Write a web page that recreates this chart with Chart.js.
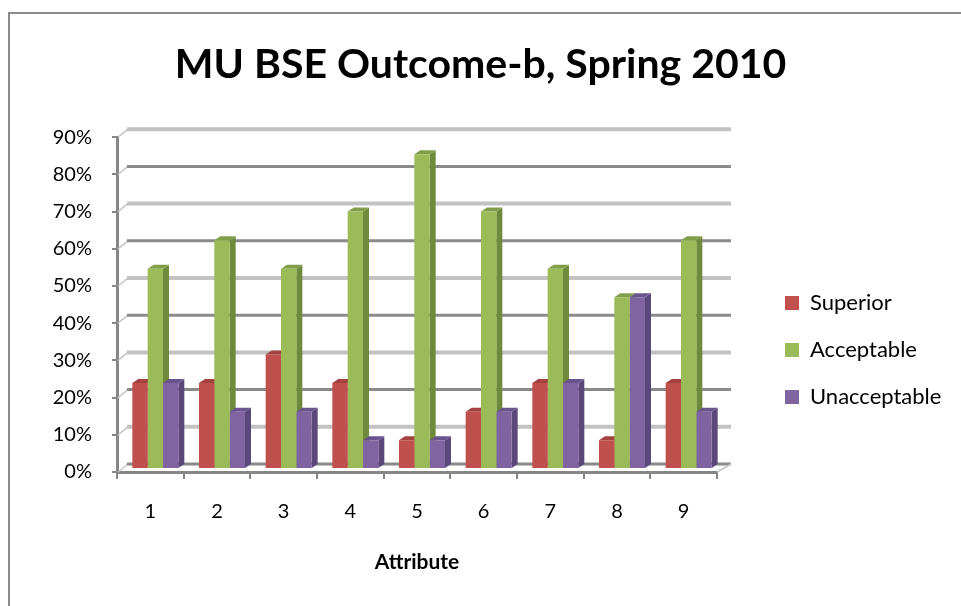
<!DOCTYPE html>
<html>
<head>
<meta charset="utf-8">
<script src="https://cdn.jsdelivr.net/npm/chart.js@4.4.0/dist/chart.umd.min.js"></script>
<style>
    html, body { margin: 0; padding: 0; background: #fff; overflow: hidden; }
    #wrap { position: relative; width: 961px; height: 606px; }
    #frame { position: absolute; left: 8px; top: 12px; width: 1000px; height: 1000px; border: 2px solid #8c8c8c; box-sizing: border-box; }
    canvas { position: absolute; left: 0; top: 0; }
</style>
</head>
<body>
<div id="wrap">
    <div id="frame"></div>
    <canvas id="chart" width="961" height="606"></canvas>
</div>
<script>
// Data (percent of students per attribute)
const attributes = ["1", "2", "3", "4", "5", "6", "7", "8", "9"];
const superior = [23.1, 23.1, 30.8, 23.1, 7.7, 15.4, 23.1, 7.7, 23.1];
const acceptable = [53.8, 61.5, 53.8, 69.2, 84.6, 69.2, 53.8, 46.2, 61.5];
const unacceptable = [23.1, 15.4, 15.4, 7.7, 7.7, 15.4, 23.1, 46.2, 15.4];
const yTickLabels = ["0%", "10%", "20%", "30%", "40%", "50%", "60%", "70%", "80%", "90%"];

// Excel 2007 kleuren: voorkant, zijkant, bovenkant
const fronts = ["#c0504d", "#9bbb59", "#8064a2"];
const sides = ["#8c3a37", "#6e8a3a", "#5b477c"];
const tops = ["#a4423f", "#809f48", "#6a5490"];

const axisGray = "#868686";
const font = "Lato";

// 3D look: achterwand-gridlines en zijvlakken van de staven
const depth3d = {
    id: "depth3d",
    beforeInit(chart) {
        const fit = chart.legend.fit;
        chart.legend.fit = function () {
            fit.bind(chart.legend)();
            this.width = 244;
        };
    },
    afterLayout(chart) {
        // legenda staat in Excel verder naar rechts en lager
        chart.legend.left = 760;
        chart.legend.right = 961;
        chart.legend.top = 267;
        chart.legend.bottom = 606;
    },
    beforeDatasetsDraw(chart) {
        const { ctx, chartArea: a, scales: { y } } = chart;
        ctx.save();
        y.ticks.forEach((t, i) => {
            const yf = y.getPixelForValue(t.value);
            const yb = yf - 8;
            ctx.strokeStyle = "#c4c4c4";
            ctx.lineWidth = 1.5;
            ctx.beginPath();
            ctx.moveTo(a.left + 1, yf);
            ctx.lineTo(a.left + 11, yb);
            ctx.stroke();
            ctx.strokeStyle = i % 2 ? "#c2c2c2" : "#8a8a8a";
            ctx.lineWidth = i % 2 ? 4 : 3;
            ctx.beginPath();
            ctx.moveTo(a.left + 10, yb);
            ctx.lineTo(a.right + 14, yb);
            ctx.stroke();
        });
        // rechterkant van de vloer
        ctx.strokeStyle = "#c4c4c4";
        ctx.lineWidth = 1.5;
        ctx.beginPath();
        ctx.moveTo(a.right, a.bottom);
        ctx.lineTo(a.right + 14, a.bottom - 8);
        ctx.stroke();
        ctx.restore();

        // staven iets naar achteren schuiven
        ctx.save();
        ctx.translate(5, -3);
        const dx = 6, dy = 4;
        chart.data.datasets.forEach((ds, i) => {
            chart.getDatasetMeta(i).data.forEach((bar) => {
                const l = bar.x - bar.width / 2;
                const r = bar.x + bar.width / 2;
                ctx.fillStyle = sides[i];
                ctx.beginPath();
                ctx.moveTo(r, bar.base);
                ctx.lineTo(r, bar.y);
                ctx.lineTo(r + dx, bar.y - dy);
                ctx.lineTo(r + dx, bar.base - dy);
                ctx.closePath();
                ctx.fill();
                ctx.fillStyle = tops[i];
                ctx.beginPath();
                ctx.moveTo(l, bar.y);
                ctx.lineTo(l + dx, bar.y - dy);
                ctx.lineTo(r + dx, bar.y - dy);
                ctx.lineTo(r, bar.y);
                ctx.closePath();
                ctx.fill();
            });
        });
    },
    afterDatasetsDraw(chart) {
        chart.ctx.restore();
    }
};

new Chart(document.getElementById("chart"), {
    type: "bar",
    data: {
        labels: attributes,
        datasets: [
            { label: "Superior", data: superior, backgroundColor: fronts[0] },
            { label: "Acceptable", data: acceptable, backgroundColor: fronts[1] },
            { label: "Unacceptable", data: unacceptable, backgroundColor: fronts[2] }
        ]
    },
    options: {
        responsive: false,
        animation: false,
        datasets: {
            bar: { categoryPercentage: 0.69, barPercentage: 1.0 }
        },
        layout: { padding: 0 },
        plugins: {
            title: {
                display: true,
                text: "MU BSE Outcome-b, Spring 2010",
                color: "#000",
                font: { family: font, size: 41, weight: "bold" },
                padding: { top: 40, bottom: 48 }
            },
            legend: {
                position: "right",
                align: "start",
                labels: {
                    boxWidth: 14,
                    boxHeight: 14,
                    padding: 25,
                    color: "#000",
                    font: { family: font, size: 22 }
                }
            },
            tooltip: { enabled: false }
        },
        scales: {
            x: {
                offset: true,
                grid: { display: true, drawOnChartArea: false, drawTicks: true, tickLength: 7, offset: true, color: axisGray, lineWidth: 2 },
                border: { display: true, color: axisGray, width: 3 },
                ticks: { color: "#000", font: { family: font, size: 20 }, padding: 21 },
                title: {
                    display: true,
                    text: "Attribute",
                    color: "#000",
                    font: { family: font, size: 21, weight: "bold" },
                    padding: { top: 0, bottom: 31 }
                },
                afterFit(scale) { scale.height = 134; }
            },
            y: {
                min: 0,
                max: 90,
                ticks: {
                    stepSize: 10,
                    color: "#000",
                    font: { family: font, size: 20 },
                    padding: 20,
                    callback: (v, i) => yTickLabels[i]
                },
                grid: { drawOnChartArea: false, tickLength: 5, color: axisGray, lineWidth: 2 },
                border: { display: true, color: axisGray, width: 3 },
                afterFit(scale) { scale.width = 117; }
            }
        }
    },
    plugins: [depth3d]
});
</script>
</body>
</html>
